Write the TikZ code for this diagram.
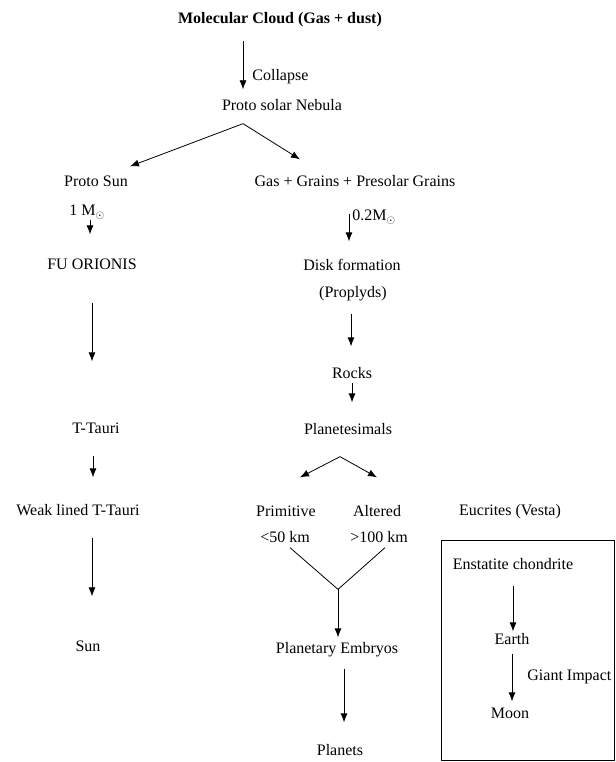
\documentclass[tikz,border=0pt]{standalone}
\usepackage{fontspec}
\setmainfont{Liberation Serif}
\usepackage{amsmath, amssymb}
\usepackage{tikz}
\usetikzlibrary{arrows.meta}

\begin{document}
\begin{tikzpicture}[x=1pt, y=-1pt, font=\fontsize{16}{19}\selectfont,
	lbl/.style={inner sep=0pt, text height=11pt, text depth=3.5pt},
	>={Latex[length=9pt,width=7pt]}, line width=0.8pt]
	\useasboundingbox (0,0) rectangle (615,762);

	\node[lbl, font=\fontsize{16}{19}\selectfont\bfseries] (mol) at (280,20) {Molecular Cloud (Gas + dust)};
	\node[lbl, anchor=west] (clps) at (252,77) {Collapse};
	\node[lbl] (neb) at (282,107) {Proto solar Nebula};

	\node[lbl] (psun) at (96,183) {Proto Sun};
	\node[lbl] (msun) at (87,212) {1 M$_\odot$};
	\node[lbl] (fu) at (92,266) {FU ORIONIS};
	\node[lbl] (ttau) at (96,430) {T-Tauri};
	\node[lbl] (weak) at (78,512) {Weak lined T-Tauri};
	\node[lbl] (sun) at (88,648) {Sun};

	\node[lbl] (ggp) at (355,183) {Gas + Grains + Presolar Grains};
	\node[lbl] (mgas) at (374,217) {0.2M$_\odot$};
	\node[lbl] (disk) at (352,267) {Disk formation};
	\node[lbl] (prop) at (353,294) {(Proplyds)};
	\node[lbl] (rocks) at (352,375) {Rocks};
	\node[lbl] (plsm) at (348,431) {Planetesimals};
	\node[lbl] (prim) at (286,513) {Primitive};
	\node[lbl] (alt) at (377,513) {Altered};
	\node[lbl] (eucr) at (510,512) {Eucrites (Vesta)};
	\node[lbl] (lt50) at (285,539) {<50 km};
	\node[lbl] (gt100) at (379,539) {>100 km};
	\node[lbl] (emb) at (337,650) {Planetary Embryos};
	\node[lbl] (planets) at (340,752) {Planets};

	\node[lbl] (enst) at (513,566) {Enstatite chondrite};
	\node[lbl] (earth) at (512,641) {Earth};
	\node[lbl] (moon) at (510,715) {Moon};
	\node[lbl, anchor=west] (giant) at (527,677) {Giant Impact};

	\draw (441,540) rectangle (614,760);

	% collapse and split
	\draw[->, shorten <=13pt, shorten >=10pt] ([xshift=-37pt]mol.south) -- ([xshift=-37pt]mol.south |- neb.north);
	\coordinate (split) at ([xshift=-39pt,yshift=-9pt]neb.south);
	\draw[->] (split) -- ([xshift=34pt,yshift=9pt]psun.north);
	\draw[->] (split) -- ([xshift=-55pt,yshift=16pt]ggp.north);

	% proto sun branch
	\draw[->, shorten >=24pt] ([xshift=3pt]msun.south) -- ([xshift=3pt]msun.south |- fu.north);
	\draw[->, shorten <=29pt, shorten >=61pt] (fu.south) -- (fu.south |- ttau.north);
	\draw[->, shorten <=18pt, shorten >=27pt] ([xshift=-3pt]ttau.south) -- ([xshift=-3pt]ttau.south |- weak.north);
	\draw[->, shorten <=18pt, shorten >=44pt] ([xshift=14pt]weak.south) -- ([xshift=14pt]weak.south |- sun.north);

	% disk branch
	\draw[->, shorten >=18pt] ([xshift=-3pt,yshift=3pt]mgas.west) -- ([xshift=-3pt]mgas.west |- disk.north);
	\draw[->, shorten <=12pt, shorten >=21pt] ([xshift=-2pt]prop.south) -- ([xshift=-2pt]prop.south |- rocks.north);
	\draw[->, shorten >=21pt] (rocks.south) -- (rocks.south |- plsm.north);
	\coordinate (fork) at ([xshift=-8pt,yshift=-18pt]plsm.south);
	\draw[->] (fork) -- ([xshift=14pt,yshift=28pt]prim.north);
	\draw[->] (fork) -- ([yshift=28pt]alt.north);

	\coordinate (join) at ([xshift=1pt,yshift=53pt]emb.north);
	\draw ([xshift=5pt,yshift=-1pt]lt50.south) -- (join) -- ([xshift=6pt,yshift=-1pt]gt100.south);
	\draw[->] (join) -- ([xshift=1pt,yshift=5pt]emb.north);
	\draw[->, shorten <=11pt, shorten >=22pt] ([xshift=7pt]emb.south) -- ([xshift=7pt]emb.south |- planets.north);

	% box
	\draw[->, shorten <=12pt, shorten >=2pt] (enst.south) -- (enst.south |- earth.north);
	\draw[->, shorten <=5pt, shorten >=6pt] (earth.south) -- (earth.south |- moon.north);
\end{tikzpicture}
\end{document}
